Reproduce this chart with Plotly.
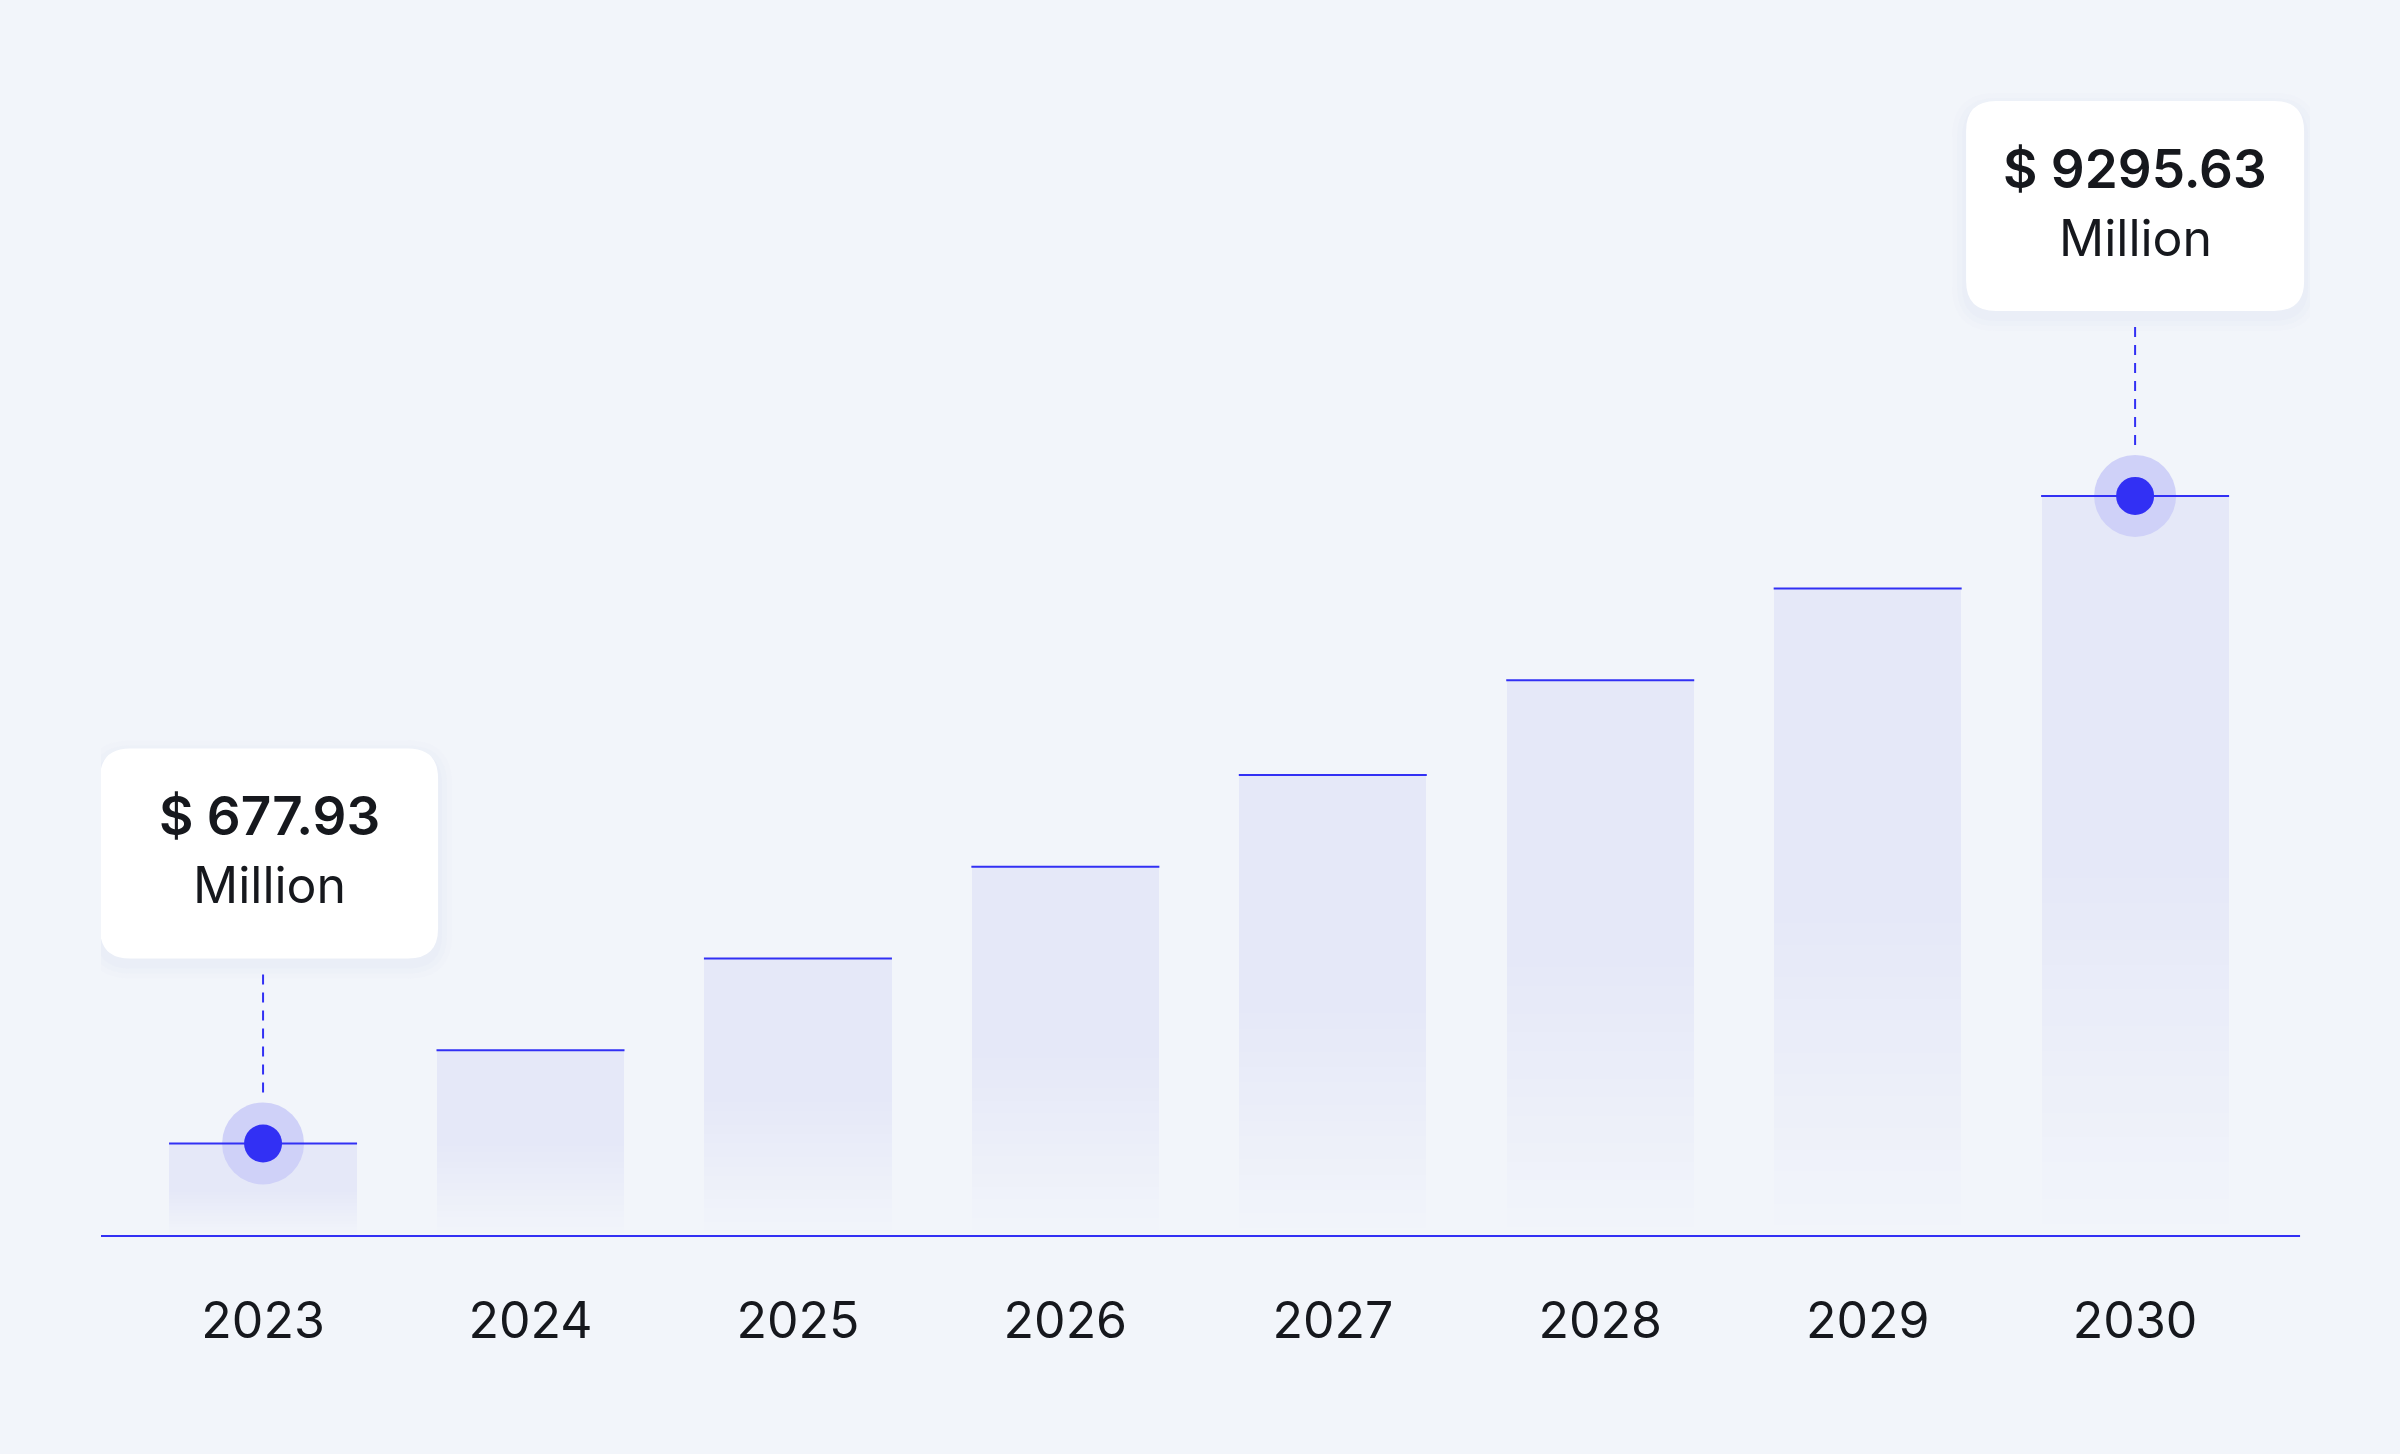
import plotly.graph_objects as go

years = ["2023", "2024", "2025", "2026", "2027", "2028", "2029", "2030"]
# bar heights as drawn, relative to the 2030 bar (= 100)
bar_heights = [12.5, 25.1, 37.5, 49.9, 62.3, 75.1, 87.5, 100.0]
callout_years = ["2023", "2030"]
callout_values = [677.93, 9295.63]
callout_unit = "Million"

BG = "#F2F5FA"
BAR = "#E5E8F8"
BLUE = "#3230F4"
HALO = "#CFD1F8"
TEXT = "#16181D"
FONT = "Inter"

n_fade = 30
fade_part = 0.5


def blend(a):
    c1 = [int(BG[i:i + 2], 16) for i in (1, 3, 5)]
    c2 = [int(BAR[i:i + 2], 16) for i in (1, 3, 5)]
    c = [round(x + (y - x) * a) for x, y in zip(c1, c2)]
    return "rgb(%d,%d,%d)" % tuple(c)


fig = go.Figure()

# faded lower half of each bar, built from stacked slices
for k in range(n_fade):
    fig.add_trace(go.Bar(
        x=years,
        y=[h * fade_part / n_fade for h in bar_heights],
        marker=dict(color=blend((k + 0.5) / n_fade), line=dict(width=0)),
        hoverinfo="skip",
        showlegend=False,
    ))

# solid upper half
fig.add_trace(go.Bar(
    x=years,
    y=[h * (1 - fade_part) for h in bar_heights],
    marker=dict(color=BAR, line=dict(width=0)),
    hovertemplate="%{x}<extra></extra>",
    showlegend=False,
))

callout_idx = [years.index(y) for y in callout_years]
callout_h = [bar_heights[i] for i in callout_idx]

# halo behind the highlighted points
fig.add_trace(go.Scatter(
    x=callout_years, y=callout_h, mode="markers",
    marker=dict(size=82, color=HALO, line=dict(width=0)),
    hoverinfo="skip", showlegend=False,
))

# blue line on top of every bar (line-ew draws 1.4x its size)
fig.add_trace(go.Scatter(
    x=years, y=bar_heights, mode="markers",
    marker=dict(symbol="line-ew", size=188 / 1.4, line=dict(width=2, color=BLUE)),
    hoverinfo="skip", showlegend=False,
))

# highlighted points
fig.add_trace(go.Scatter(
    x=callout_years, y=callout_h, mode="markers",
    marker=dict(size=38, color=BLUE, line=dict(width=0)),
    hoverinfo="skip", showlegend=False,
))


def rounded_path(x0, x1, y0, y1, r):
    return (f"M {x0 + r},{y0} L {x1 - r},{y0} Q {x1},{y0} {x1},{y0 + r} "
            f"L {x1},{y1 - r} Q {x1},{y1} {x1 - r},{y1} L {x0 + r},{y1} "
            f"Q {x0},{y1} {x0},{y1 - r} L {x0},{y0 + r} Q {x0},{y0} {x0 + r},{y0} Z")


box_dx = [6, 0]
box_w = 338
for i, h, val, dx in zip(callout_idx, callout_h, callout_values, box_dx):
    x0, x1 = dx - box_w / 2, dx + box_w / 2
    y0, y1 = 185, 395
    # soft shadow
    for grow, op in [(14, 0.12), (9, 0.18), (4, 0.3)]:
        fig.add_shape(
            type="path", xref="x", yref="y",
            xsizemode="pixel", ysizemode="pixel", xanchor=i, yanchor=h,
            path=rounded_path(x0 - grow, x1 + grow, y0 - grow - 6, y1 + grow - 6, 30 + grow),
            fillcolor="#E3E7F6", opacity=op, line=dict(width=0), layer="above",
        )
    fig.add_shape(
        type="path", xref="x", yref="y",
        xsizemode="pixel", ysizemode="pixel", xanchor=i, yanchor=h,
        path=rounded_path(x0, x1, y0, y1, 30),
        fillcolor="white", line=dict(width=0), layer="above",
    )
    # dashed connector
    fig.add_shape(
        type="line", xref="x", yref="y",
        xsizemode="pixel", ysizemode="pixel", xanchor=i, yanchor=h,
        x0=0, x1=0, y0=51, y1=175,
        line=dict(color=BLUE, width=2, dash="10px,8px"), layer="above",
    )
    fig.add_annotation(
        x=i, y=h, xref="x", yref="y", xshift=dx, yshift=327,
        text=f"$ {val:.2f}", showarrow=False, yanchor="middle",
        font=dict(family=FONT, size=53, color=TEXT, weight=600),
    )
    fig.add_annotation(
        x=i, y=h, xref="x", yref="y", xshift=dx, yshift=258,
        text=callout_unit, showarrow=False, yanchor="middle",
        font=dict(family=FONT, size=50, color=TEXT),
    )

# baseline (plot area is a little wider than the line so the right box is not clipped)
fig.add_shape(
    type="line", xref="paper", yref="paper",
    x0=0, x1=0.9955, y0=0, y1=0,
    line=dict(color=BLUE, width=2), layer="above",
)

fig.update_layout(
    width=2400,
    height=1454,
    barmode="stack",
    bargap=0.3,
    paper_bgcolor=BG,
    plot_bgcolor=BG,
    margin=dict(l=101, r=90, t=0, b=218, pad=0),
    showlegend=False,
    xaxis=dict(
        type="category",
        range=[-0.606, 7.654],
        showline=False,
        showgrid=False,
        zeroline=False,
        ticks="",
        ticklabelstandoff=51,
        tickfont=dict(family=FONT, size=50, color=TEXT),
    ),
    yaxis=dict(
        range=[0, 167],
        visible=False,
        showgrid=False,
        zeroline=False,
    ),
)

fig.write_html(
    "out.html",
    config={"displayModeBar": False},
    post_script="document.body.style.margin='0';",
)
